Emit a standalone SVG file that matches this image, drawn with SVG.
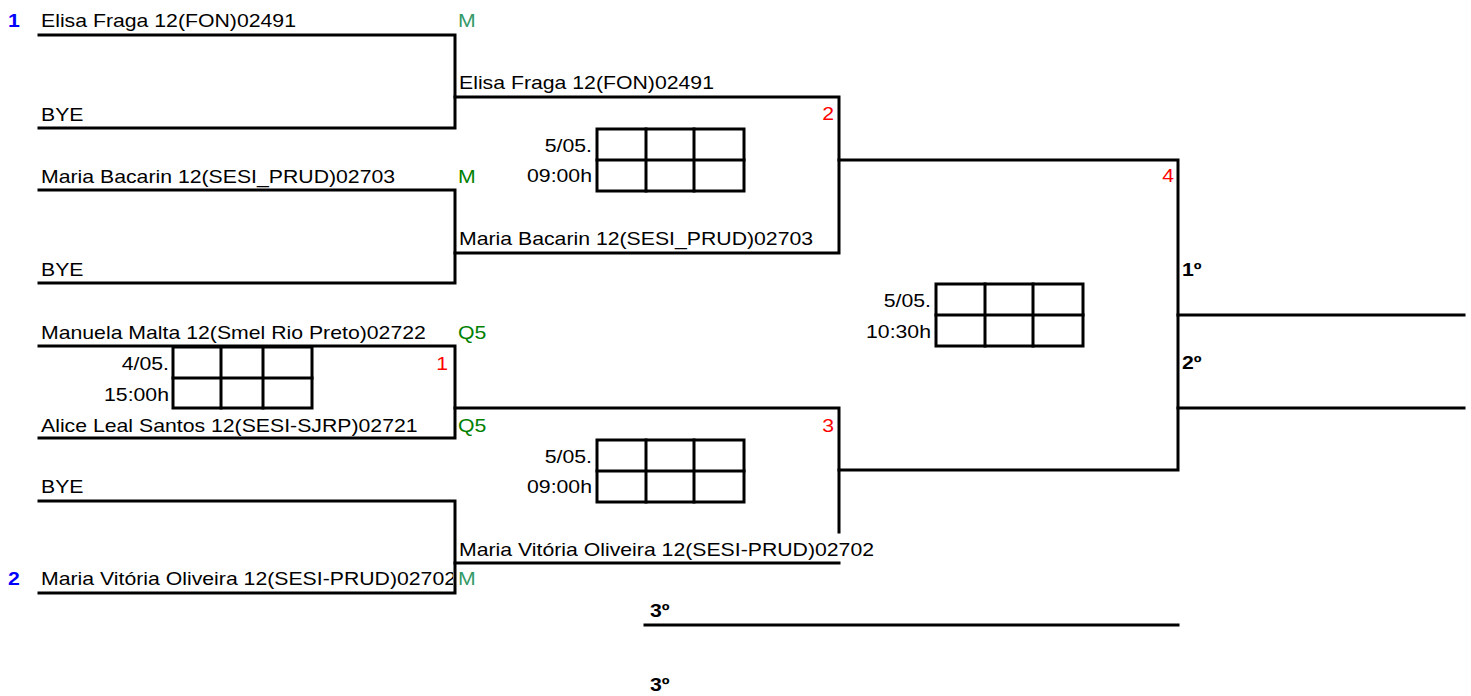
<svg xmlns="http://www.w3.org/2000/svg" width="1471" height="696" viewBox="0 0 1471 696">
<style>
text{font-family:"Liberation Sans",Arial,sans-serif;font-size:17.7px;fill:#000}
.b{font-weight:bold}
.seed{fill:#0000ff;font-weight:bold}
.num{fill:#ff0000}
.m{fill:#339966}
.q{fill:#008000}
.e{text-anchor:end}
.ln{stroke:#000;stroke-width:3;fill:none;stroke-linecap:square}
.box{stroke:#000;stroke-width:3;fill:none}
</style>
<defs>
<clipPath id="clipL"><rect x="0" y="560" width="453" height="40"/></clipPath>
<g id="score"><rect class="box" x="0" y="0" width="147" height="62"/><path class="ln" d="M0 31H147M49 0V62M97 0V62"/></g>
</defs>
<g id="connectors">
<path class="ln" d="M39 35H455V128H39"/>
<path class="ln" d="M39 190H455V283H39"/>
<path class="ln" d="M39 346H455V438H39"/>
<path class="ln" d="M39 501H455V593H39"/>
<path class="ln" d="M455 97H839V253H455"/>
<path class="ln" d="M455 408H839V532"/>
<path class="ln" d="M455 563H839"/>
<path class="ln" d="M839 160H1178V470H839"/>
<path class="ln" d="M1178 315H1464"/>
<path class="ln" d="M1178 408H1464"/>
<path class="ln" d="M645 625H1178"/>
</g>
<g id="player1">
<text class="seed" transform="matrix(1.2 0 0 1 8 27)">1</text>
<text transform="matrix(1.2 0 0 1 41 27)">Elisa Fraga 12(FON)02491</text>
<text class="m" transform="matrix(1.2 0 0 1 458 27)">M</text>
</g>
<g id="player2"><text transform="matrix(1.2 0 0 1 41 121)">BYE</text></g>
<g id="player3">
<text transform="matrix(1.2 0 0 1 41 183)">Maria Bacarin 12(SESI_PRUD)02703</text>
<text class="q" transform="matrix(1.2 0 0 1 458 183)">M</text>
</g>
<g id="player4"><text transform="matrix(1.2 0 0 1 41 276)">BYE</text></g>
<g id="player5">
<text transform="matrix(1.2 0 0 1 41 339)">Manuela Malta 12(Smel Rio Preto)02722</text>
<text class="q" transform="matrix(1.2 0 0 1 458 339)">Q5</text>
</g>
<g id="player6">
<text transform="matrix(1.2 0 0 1 41 432)">Alice Leal Santos 12(SESI-SJRP)02721</text>
<text class="q" transform="matrix(1.2 0 0 1 458 432)">Q5</text>
</g>
<g id="player7"><text transform="matrix(1.2 0 0 1 41 493)">BYE</text></g>
<g id="player8">
<text class="seed" transform="matrix(1.2 0 0 1 8 585)">2</text>
<g clip-path="url(#clipL)"><text transform="matrix(1.2 0 0 1 41 585)">Maria Vitória Oliveira 12(SESI-PRUD)02702</text></g>
<text class="m" transform="matrix(1.2 0 0 1 458 585)">M</text>
</g>
<g id="match1">
<text class="num e" transform="matrix(1.2 0 0 1 448 370)">1</text>
<rect class="box" x="173" y="347" width="139" height="61"/>
<path class="ln" d="M173 378H312M221 347V408M263 347V408"/>
<text class="e" transform="matrix(1.2 0 0 1 169 370)">4/05.</text>
<text class="e" transform="matrix(1.2 0 0 1 169 401)">15:00h</text>
</g>
<g id="match2">
<text transform="matrix(1.2 0 0 1 459 89)">Elisa Fraga 12(FON)02491</text>
<text transform="matrix(1.2 0 0 1 459 245)">Maria Bacarin 12(SESI_PRUD)02703</text>
<text class="num e" transform="matrix(1.2 0 0 1 834 120)">2</text>
<use href="#score" x="597" y="129"/>
<text class="e" transform="matrix(1.2 0 0 1 592 152)">5/05.</text>
<text class="e" transform="matrix(1.2 0 0 1 592 182)">09:00h</text>
</g>
<g id="match3">
<text class="num e" transform="matrix(1.2 0 0 1 834 432)">3</text>
<use href="#score" x="597" y="440"/>
<text class="e" transform="matrix(1.2 0 0 1 592 463)">5/05.</text>
<text class="e" transform="matrix(1.2 0 0 1 592 493)">09:00h</text>
<text transform="matrix(1.2 0 0 1 459 556)">Maria Vitória Oliveira 12(SESI-PRUD)02702</text>
</g>
<g id="match4">
<text class="num e" transform="matrix(1.2 0 0 1 1174 182)">4</text>
<use href="#score" x="936" y="284"/>
<text class="e" transform="matrix(1.2 0 0 1 931 307)">5/05.</text>
<text class="e" transform="matrix(1.2 0 0 1 931 338)">10:30h</text>
</g>
<g id="final">
<text class="b" transform="matrix(1.2 0 0 1 1182 276)">1º</text>
<text class="b" transform="matrix(1.2 0 0 1 1182 369)">2º</text>
</g>
<g id="third">
<text class="b" transform="matrix(1.2 0 0 1 650 617)">3º</text>
<text class="b" transform="matrix(1.2 0 0 1 650 691)">3º</text>
</g>
</svg>
